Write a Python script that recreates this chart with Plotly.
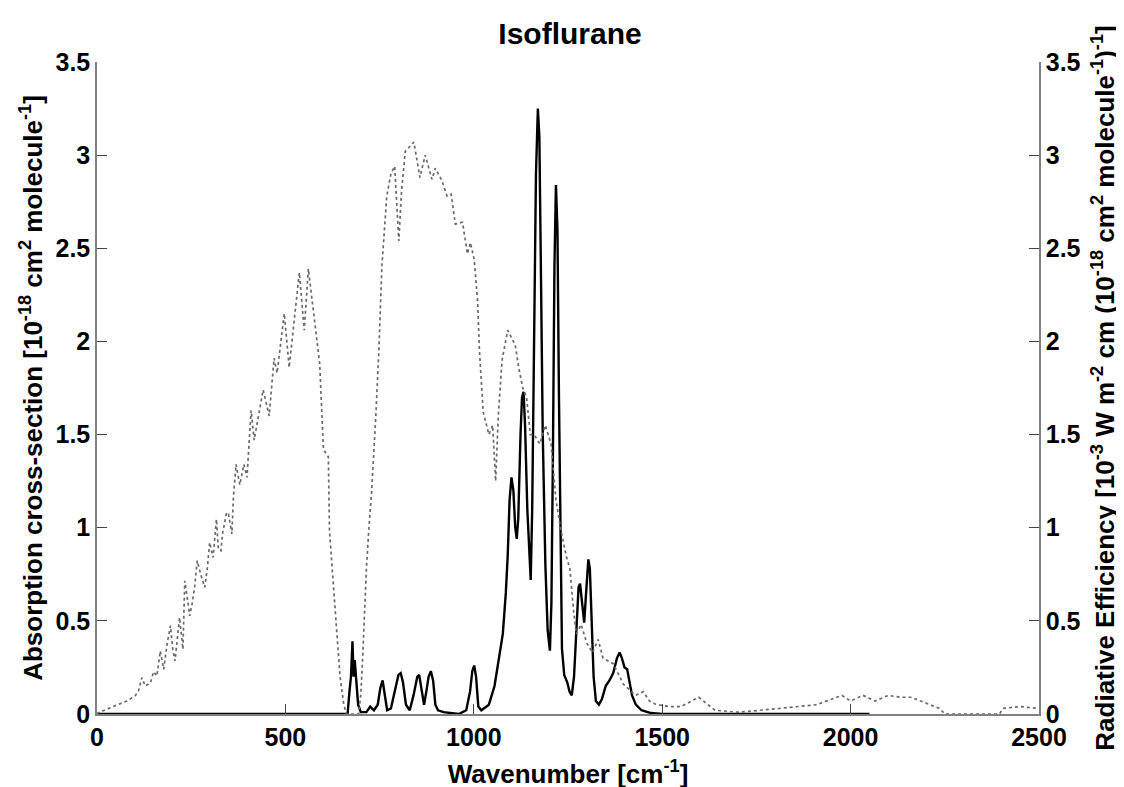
import plotly.graph_objects as go

# Absorption cross-section (solid black), 1e-18 cm^2 molecule^-1
abs_wn = [0, 300, 650, 665, 670, 674, 678, 681, 684, 688, 693, 700, 715, 725, 735, 745,
          752, 758, 764, 770, 780, 790, 800, 806, 812, 820, 830, 840, 850, 855, 862, 868,
          874, 880, 886, 892, 898, 905, 920, 960, 980, 990, 996, 1001, 1006, 1012, 1020,
          1040, 1055, 1063, 1070, 1077, 1085, 1090, 1095, 1100, 1105, 1110, 1114, 1118,
          1124, 1128, 1132, 1136, 1142, 1148, 1151, 1155, 1160, 1165, 1170, 1174, 1178,
          1183, 1190, 1196, 1202, 1206, 1210, 1214, 1218, 1222, 1226, 1230, 1234, 1240,
          1248, 1254, 1260, 1266, 1272, 1278, 1282, 1287, 1293, 1298, 1304, 1308, 1313,
          1318, 1324, 1332, 1340, 1350, 1360, 1370, 1380, 1387, 1393, 1400, 1407, 1413,
          1420, 1430, 1445, 1470, 1500, 2050]
abs_cs = [0, 0, 0, 0.0, 0.12, 0.2, 0.39, 0.2, 0.29, 0.2, 0.05, 0.01, 0.01, 0.04, 0.02, 0.05,
          0.14, 0.18, 0.1, 0.02, 0.03, 0.12, 0.21, 0.22, 0.17, 0.05, 0.02, 0.1, 0.2, 0.21, 0.12, 0.05,
          0.12, 0.2, 0.23, 0.18, 0.05, 0.02, 0.01, 0.0, 0.02, 0.12, 0.23, 0.26, 0.2, 0.04, 0.02,
          0.05, 0.15, 0.25, 0.35, 0.43, 0.65, 0.85, 1.15, 1.27, 1.2, 1.0, 0.94, 1.05,
          1.5, 1.7, 1.73, 1.55, 1.1, 0.78, 0.72, 1.1, 2.0, 2.9, 3.25, 3.1, 2.4,
          1.5, 0.8, 0.45, 0.34, 0.6, 1.4, 2.4, 2.84, 2.6, 1.7, 0.9, 0.35, 0.21,
          0.17, 0.12, 0.1, 0.2, 0.45, 0.68, 0.7, 0.6, 0.49, 0.65, 0.83, 0.78, 0.45,
          0.2, 0.07, 0.05, 0.08, 0.15, 0.18, 0.22, 0.3, 0.33, 0.3, 0.25, 0.24, 0.18,
          0.1, 0.05, 0.02, 0.005, 0.0, 0.0]

# Radiative efficiency (dotted grey), right axis
re_wn = [0, 4, 30, 57, 79, 101, 110, 119, 128, 142, 150, 159, 168, 177, 186, 195, 201, 207,
         213, 219, 228, 233, 242, 246, 253, 259, 266, 275, 286, 293, 299, 308, 317, 322, 329,
         333, 344, 349, 358, 362, 369, 379, 390, 398, 409, 417, 441, 457, 470, 478, 497, 510,
         537, 550, 561, 577, 591, 601, 614, 617, 625, 635, 645, 655, 662, 694, 700, 705, 710,
         715, 721, 729, 740, 748, 756, 769, 780, 790, 801, 808, 818, 841, 857, 871, 889, 898,
         916, 929, 940, 951, 970, 983, 991, 1001, 1010, 1015, 1025, 1040, 1050, 1058, 1065,
         1075, 1090, 1100, 1110, 1120, 1130, 1140, 1150, 1160, 1175, 1190, 1205, 1218, 1230,
         1245, 1255, 1265, 1272, 1285, 1300, 1315, 1330, 1343, 1370, 1397, 1429, 1450, 1466,
         1485, 1520, 1550, 1597, 1640, 1700, 1760, 1813, 1860, 1910, 1977, 2000, 2033, 2065,
         2100, 2131, 2160, 2198, 2236, 2250, 2395, 2405, 2450, 2495]
rad_eff = [0, 0.007, 0.029, 0.053, 0.07, 0.097, 0.124, 0.195, 0.15, 0.168, 0.227, 0.204, 0.339,
           0.24, 0.375, 0.474, 0.348, 0.285, 0.392, 0.518, 0.348, 0.715, 0.59, 0.527, 0.598,
           0.68, 0.823, 0.751, 0.68, 0.787, 0.921, 0.84, 1.046, 0.885, 0.876, 0.966, 1.082,
           1.073, 0.966, 1.163, 1.34, 1.23, 1.34, 1.27, 1.63, 1.47, 1.74, 1.60, 1.91, 1.83,
           2.15, 1.86, 2.37, 2.06, 2.39, 2.13, 1.88, 1.42, 1.38, 0.98, 0.75, 0.45, 0.2, 0.05,
           0.0, 0.0, 0.1, 0.3, 0.55, 0.78, 0.98, 1.2, 1.6, 1.95, 2.4, 2.78, 2.9, 2.94, 2.54,
           2.8, 3.02, 3.07, 2.88, 3.0, 2.87, 2.93, 2.86, 2.78, 2.79, 2.63, 2.64, 2.47, 2.53,
           2.44, 2.22, 1.95, 1.62, 1.5, 1.55, 1.25, 1.6, 1.9, 2.06, 2.02, 1.98, 1.85, 1.75,
           1.7, 1.5, 1.5, 1.45, 1.55, 1.45, 1.15, 1.0, 0.85, 0.78, 0.55, 0.43, 0.48, 0.38,
           0.33, 0.4, 0.3, 0.27, 0.16, 0.1, 0.12, 0.07, 0.05, 0.04, 0.04, 0.09, 0.02, 0.01,
           0.02, 0.03, 0.04, 0.05, 0.1, 0.07, 0.1, 0.07, 0.1, 0.09, 0.09, 0.06, 0.03, 0.0,
           0.0, 0.03, 0.04, 0.03]

x_ticks = [0, 500, 1000, 1500, 2000, 2500]
y_ticks = [0, 0.5, 1, 1.5, 2, 2.5, 3, 3.5]

FONT = "Liberation Sans, Arial, sans-serif"

fig = go.Figure()
fig.add_trace(go.Scatter(x=re_wn, y=rad_eff, mode="lines", yaxis="y2",
                         line=dict(color="#6a6a6a", width=1.7, dash="dot"),
                         showlegend=False))
fig.add_trace(go.Scatter(x=abs_wn, y=abs_cs, mode="lines",
                         line=dict(color="black", width=2.4),
                         showlegend=False))

axis_common = dict(showline=True, linecolor="#808080", linewidth=1.5,
                   ticks="inside", ticklen=10, tickcolor="#444", tickwidth=1.2,
                   showgrid=False, zeroline=False, automargin=False,
                   tickfont=dict(family=FONT, size=25, color="black", weight="bold"))

fig.update_layout(
    width=1124, height=787,
    paper_bgcolor="white", plot_bgcolor="white",
    margin=dict(l=89, r=93, t=54, b=81),
    title=dict(text="<b>Isoflurane</b>", x=0.5, xanchor="center", y=0.968, yanchor="middle",
               font=dict(family=FONT, size=30, color="black")),
    xaxis=dict(range=[0, 2500], tickvals=x_ticks, ticktext=[str(v) for v in x_ticks],
               title=dict(text="<b>Wavenumber [cm<sup>-1</sup>]</b>", standoff=15,
                          font=dict(family=FONT, size=26, color="black")),
               **axis_common),
    yaxis=dict(range=[0, 3.5], tickvals=y_ticks,
               title=dict(text="<b>Absorption cross-section [10<sup>-18</sup> cm<sup>2</sup> molecule<sup>-1</sup>]</b>",
                          standoff=5, font=dict(family=FONT, size=26, color="black")),
               **axis_common),
    yaxis2=dict(range=[0, 3.5], tickvals=y_ticks, overlaying="y", side="right", anchor="x",
                title=dict(text="<b>Radiative Efficiency [10<sup>-3</sup> W m<sup>-2</sup> cm (10<sup>-18</sup> cm<sup>2</sup> molecule<sup>-1</sup>)<sup>-1</sup>]</b>",
                           standoff=16, font=dict(family=FONT, size=26, color="black")),
                **axis_common),
)

fig.write_html("out.html")
